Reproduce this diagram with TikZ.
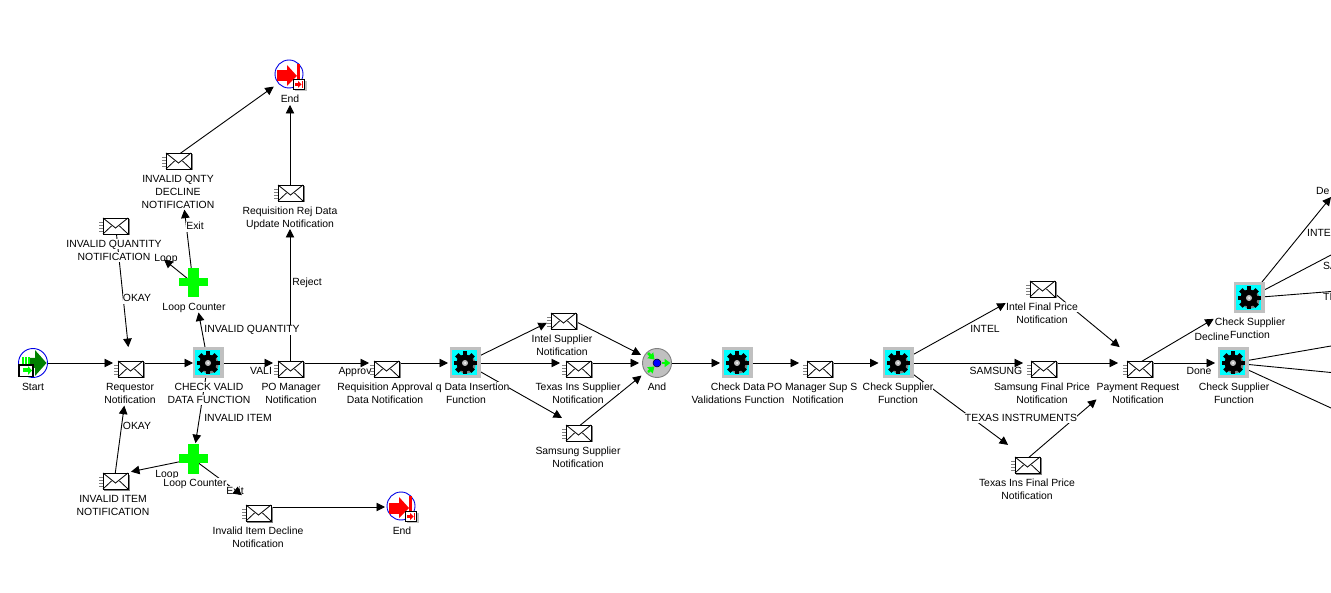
\documentclass[tikz,border=0pt]{standalone}
\usepackage{fontspec}
\setmainfont{Liberation Sans}
\usetikzlibrary{arrows.meta,calc,backgrounds}

\definecolor{wingray}{RGB}{192,192,192}
\definecolor{iconcyan}{RGB}{0,255,255}
\definecolor{loopgreen}{RGB}{0,255,0}
\definecolor{startgreen}{RGB}{0,128,0}
\definecolor{ringblue}{RGB}{0,0,230}

\setlength{\fboxsep}{0pt}
\newcommand{\wl}[1]{\colorbox{white}{\rule[-2pt]{0pt}{10.5pt}#1}}

\tikzset{
	iconbox/.style={minimum size=32pt, inner sep=0pt, outer sep=0pt},
	lablow/.style={anchor=north, align=center, inner sep=0pt, font=\fontsize{10.4}{13}\selectfont},
	edgelab/.style={fill=white, inner sep=0pt, yshift=-1pt, text height=8pt, text depth=2pt, font=\fontsize{10.4}{13}\selectfont},
	wire/.style={line width=0.9pt},
	flowhead/.style={line width=0.9pt, -{Triangle[length=8.5pt,width=8.5pt]}},
	mailicon/.pic={
		\foreach \yy in {2,5,8,11}{\draw[gray, line width=0.7pt] (-16,\yy) -- (-12,\yy);}
		\fill[gray] (-11,-0.5) rectangle (14.5,15.5);
		\draw[fill=white, line width=0.9pt] (-12,-2) rectangle (13,14);
		\draw[line width=0.8pt] (-12,-2) -- (0.5,8) -- (13,-2);
		\draw[line width=0.8pt] (-12,14) -- (-3.5,6);
		\draw[line width=0.8pt] (13,14) -- (4.5,6);
	},
	fnicon/.pic={
		\fill[wingray] (-15.5,-15.5) rectangle (15.5,15.5);
		\fill[iconcyan] (-13,-13) rectangle (12,12);
		\fill[gray] (1.2,1.2) circle(9.5);
		\foreach \r in {0,45,...,315}{\fill[black, rotate=\r] (-2.4,-11.5) rectangle (2.4,-6);}
		\fill[black] (0,0) circle(8.5);
		\fill[wingray] (0,0) circle(3);
		\fill[white] (0,0) circle(1);
	},
	loopicon/.pic={
		\fill[loopgreen] (-5,-15) rectangle (5.5,14.5);
		\fill[loopgreen] (-14.5,-4.5) rectangle (15,3.5);
	},
	starticon/.pic={
		\draw[ringblue, fill=white, line width=0.9pt] (0,0) circle(14.5);
		\fill[startgreen] (2,-5) -- (2,-13) -- (13.5,0) -- (2,13) -- (2,5) -- (-4,5) -- (-4,-5) -- cycle;
		\foreach \xx in {-11,-8,-5}{\fill[loopgreen] (\xx,-6) rectangle (\xx+1.5,4);}
		\draw[black, fill=white, line width=1.8pt] (-14,2) rectangle (0,13.5);
		\fill[loopgreen] (-10,5.5) rectangle (-5,9.5);
		\fill[loopgreen] (-5,3) -- (-1,7.5) -- (-5,12) -- cycle;
	},
	endicon/.pic={
		\draw[ringblue, fill=white, line width=0.9pt] (-1,-1) circle(14);
		\fill[red] (-13,-4.5) rectangle (-3,6.5);
		\fill[red] (-3,-10) -- (7,1) -- (-3,11) -- cycle;
		\fill[red] (6.5,-11) rectangle (9.5,7);
		\fill[wingray] (5,6) rectangle (16.5,16);
		\draw[black, fill=white, line width=1.2pt] (3.5,4.5) rectangle (14.5,14.5);
		\fill[red] (5,8) rectangle (8,11);
		\fill[red] (8,6) -- (11.5,9.5) -- (8,13) -- cycle;
		\fill[red] (11.5,6) rectangle (13,13);
	},
	andicon/.pic={
		\draw[gray, fill=wingray, line width=0.9pt] (0,0) circle(14.5);
		\draw[loopgreen, line width=2.5pt, -{Triangle[length=6pt,width=8pt]}] (-9,-10) -- (-2.5,-3.5);
		\draw[loopgreen, line width=2.5pt, -{Triangle[length=6pt,width=8pt]}] (-9,9) -- (-2.5,3.5);
		\draw[loopgreen, line width=2.5pt, -{Triangle[length=6pt,width=8pt]}] (5,0) -- (13.5,0);
		\draw[black, fill=blue, line width=0.5pt] (0,0) circle(4);
	},
}

\begin{document}
\begin{tikzpicture}[x=1pt,y=-1pt]
	\useasboundingbox (0,0) rectangle (1331,593);

	\foreach \nm/\lx/\ly/\txt in {
		lokup/137/298/OKAY, lexup/195/226/Exit, llpup/166/258/Loop, lrej/307/282/Reject,
		lqty/252/329/{INVALID QUANTITY}, lokdn/137/426/OKAY, litm/238/417/{INVALID ITEM},
		llpdn/167/473/Loop, lexdn/235/490/Exit, lval/261/371/VALI, lapp/355/371/Approv,
		lint/985/329/INTEL, lsam/996/371/SAMSUNG, ltex/1021/417/{TEXAS INSTRUMENTS},
		ldon/1199/371/Done, ldec/1212/337/Decline}{
		\node[edgelab] (\nm) at (\lx,\ly) {\txt};
	}
	\node[edgelab, anchor=west] (lde) at (1316,191) {De};
	\node[edgelab, anchor=west] (lin2) at (1307,233) {INTE};
	\node[edgelab, anchor=west] (lsa2) at (1323,266) {SA};
	\node[edgelab, anchor=west] (lti2) at (1323,297) {TI};

	\foreach \nm/\x/\y/\lx/\txt in {
		chk/208/363/209/{\wl{CHECK VALID}\\\wl{DATA FUNCTION}},
		data/465/363/466/{\wl{\phantom{Re}q Data Insertion}\\\wl{Function}},
		chkdata/737/363/738/{\wl{Check Data}\\\wl{Validations Function}},
		chksup/898/363/898/{\wl{Check Supplier}\\\wl{Function}},
		chkup/1249/298/1250/{\wl{Check Supplier}\\\wl{Function}},
		chklow/1233/363/1234/{\wl{Check Supplier}\\\wl{Function}}}{
		\node[iconbox] (\nm) at (\x,\y) {};
		\node[lablow] (\nm lab) at (\lx,\y+18.7) {\txt};
		\pic at (\x,\y) {fnicon};
	}

	\foreach \nm/\x/\y/\lx/\txt in {
		req/130/363/130/{\wl{Requestor}\\\wl{Notification}},
		pomgr/290/363/291/{\wl{PO Manager}\\\wl{Notification}},
		reqapp/386/363/385/{\wl{Requisition Approval}\\\wl{Data Notification}},
		mgrsup/819/363/818/{\wl{PO Manager Sup S}\phantom{up}\\\wl{Notification}},
		intel/563/315/562/{\wl{Intel Supplier}\\\wl{Notification}},
		texas/578/363/578/{\wl{Texas Ins Supplier}\\\wl{Notification}},
		samsung/578/427/578/{\wl{Samsung Supplier}\\\wl{Notification}},
		intelfin/1042/283/1042/{\wl{Intel Final Price}\\\wl{Notification}},
		samfin/1043/363/1042/{\wl{Samsung Final Price}\\\wl{Notification}},
		texfin/1027/459/1027/{\wl{Texas Ins Final Price}\\\wl{Notification}},
		pay/1139/363/1138/{\wl{Payment Request}\\\wl{Notification}},
		qnty/178/155/178/{\wl{INVALID QNTY}\\\wl{DECLINE}\\\wl{NOTIFICATION}},
		rej/290/187/290/{\wl{Requisition Rej Data}\\\wl{Update Notification}},
		invqty/115/220/114/{\wl{INVALID QUANTITY}\\\wl{NOTIFICATION}},
		invitem/115/475/113/{\wl{INVALID ITEM}\\\wl{NOTIFICATION}},
		decl/258/507/258/{\wl{Invalid Item Decline}\\\wl{Notification}}}{
		\node[iconbox] (\nm) at (\x,\y) {};
		\node[lablow] (\nm lab) at (\lx,\y+18.7) {\txt};
		\pic at (\x,\y) {mailicon};
	}

	\foreach \nm/\x/\y/\lx in {lpup/193/283/194, lpdn/193/459/195}{
		\node[iconbox] (\nm) at (\x,\y) {};
		\node[lablow] (\nm lab) at (\lx,\y+18.7) {\wl{Loop Counter}};
		\pic at (\x,\y) {loopicon};
	}

	\node[iconbox] (start) at (33,363) {};
	\node[lablow] (startlab) at (33,381.7) {\wl{Start}};
	\pic at (33,363) {starticon};
	\node[iconbox] (endup) at (290,75) {};
	\node[lablow] (enduplab) at (290,93.7) {\wl{End}};
	\pic at (290,75) {endicon};
	\node[iconbox] (enddn) at (402,507) {};
	\node[lablow] (enddnlab) at (402,525.7) {\wl{End}};
	\pic at (402,507) {endicon};
	\node[iconbox] (and) at (657,363) {};
	\node[lablow] (andlab) at (657,381.7) {\wl{And}};
	\pic at (657,363) {andicon};

	\coordinate (outde) at (1331,197);
	\coordinate (outsa) at (1331,255);
	\coordinate (outti) at (1331,291.5);
	\coordinate (outa) at (1331,346);
	\coordinate (outb) at (1331,372.5);
	\coordinate (outc) at (1331,408);

	\foreach \a/\b/\s in {
		start/req/17, req/chk/15, chk/pomgr/17, pomgr/reqapp/17, reqapp/data/17,
		invqty/req/16, invitem/req/43, chk/lpup/30, lpup/invqty/63, lpup/qnty/55,
		qnty/endup/20, pomgr/rej/42, rej/endup/30, chk/lpdn/16, lpdn/invitem/16.3,
		lpdn/decl/20, decl/enddn/17, data/intel/18, data/texas/18, data/samsung/18.4,
		intel/and/18, texas/and/18, samsung/and/20, and/chkdata/17, chkdata/mgrsup/20,
		mgrsup/chksup/19.5, chksup/intelfin/41.5, chksup/samfin/20, chksup/texfin/23.6,
		intelfin/pay/25, samfin/pay/21, texfin/pay/56, pay/chkup/41, pay/chklow/18,
		chkup/outde/0}{
		\begin{scope}[on background layer]
			\draw[wire] (\a.center) -- ($(\b.center)!\s pt+4pt!(\a.center)$);
		\end{scope}
		\draw[flowhead] ($(\b.center)!\s pt+9pt!(\a.center)$) -- ($(\b.center)!\s pt!(\a.center)$);
	}

	\begin{scope}[on background layer]
		\draw[wire] (chkup.center) -- (outsa);
		\draw[wire] (chkup.center) -- (outti);
		\draw[wire] (chklow.center) -- (outa);
		\draw[wire] (chklow.center) -- (outb);
		\draw[wire] (chklow.center) -- (outc);
	\end{scope}
\end{tikzpicture}
\end{document}
